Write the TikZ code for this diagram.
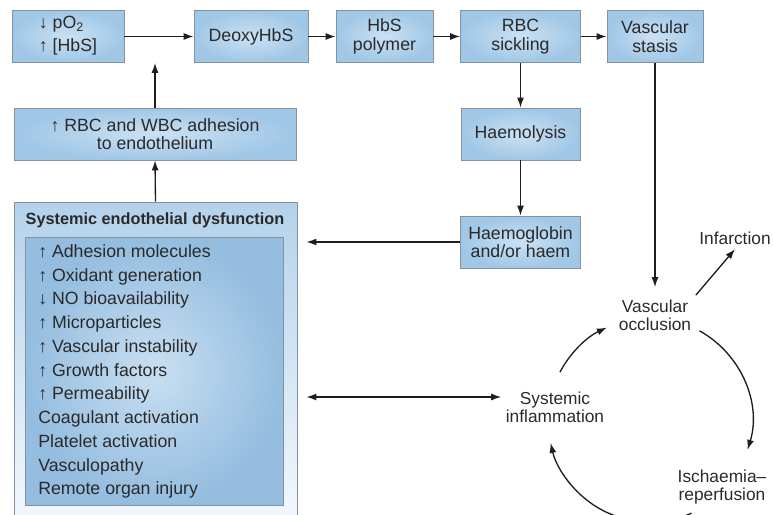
\documentclass[tikz,border=0pt]{standalone}
\usepackage{fontspec}
\setmainfont{Liberation Sans}
\usetikzlibrary{arrows.meta,calc}
\newcommand{\upar}{\textbf{↑}}
\newcommand{\dnar}{\textbf{↓}}
\begin{document}
\begin{tikzpicture}[x=0.75pt, y=-0.75pt,
  box/.style={draw=edge, line width=0.6pt, shading=radial, inner color=boxin, outer color=boxout, minimum height=39pt, inner sep=0pt, align=center, text=ink, font=\fontsize{13.3}{14}\selectfont},
  lbl/.style={align=center, text=ink, font=\fontsize{13}{13.2}\selectfont},
  arr/.style={draw=wire, line width=1pt, -{Latex[length=7.5pt,width=5.25pt]}}]
\definecolor{ink}{HTML}{2A2A2A}
\definecolor{wire}{HTML}{1E1E1E}
\definecolor{edge}{HTML}{8391A0}
\definecolor{boxin}{HTML}{CBE1F3}
\definecolor{boxout}{HTML}{A0C7E6}
\definecolor{listin}{HTML}{C9DFF1}
\definecolor{listout}{HTML}{94BDDF}
\definecolor{paneltop}{HTML}{B3D2EB}
\definecolor{panelbot}{HTML}{F2F7FC}
\useasboundingbox (0,0) rectangle (773,514);
\clip (0,0) rectangle (773,514);
\node[box, minimum width=84pt] (low) at (68,36.5) {\begin{tabular}{@{}l@{}}\dnar\ pO\textsubscript{2}\\[3pt]\upar\ [HbS]\end{tabular}};
\node[box, minimum width=85.5pt] (deoxy) at (251,36.5) {DeoxyHbS};
\node[box, minimum width=72.75pt] (poly) at (384.5,36.5) {HbS\\polymer};
\node[box, minimum width=90pt] (sickle) at (520.5,36.5) {RBC\\sickling};
\node[box, minimum width=72pt] (stasis) at (655,36.5) {Vascular\\stasis};
\node[box, minimum width=89.25pt] (haemo) at (520.5,134) {Haemolysis};
\node[box, minimum width=90pt] (hglob) at (520.5,242) {Haemoglobin\\and/or haem};
\node[box, minimum width=211.5pt] (adh) at (155,134) {\upar\ RBC and WBC adhesion\\to endothelium};
\node[draw=edge, line width=0.6pt, top color=paneltop, bottom color=panelbot, minimum width=212.25pt, minimum height=237pt, inner sep=0pt] (endo) at (155.5,360) {};
\node[text=ink, font=\fontsize{12.2}{14}\selectfont\bfseries] (title) at (155,220) {Systemic endothelial dysfunction};
\node[draw=edge, line width=0.6pt, shading=radial, inner color=listin, outer color=listout, minimum width=193.5pt, minimum height=201pt, inner sep=0pt] (inner) at (154,371) {};
\node[anchor=west, inner sep=0pt, align=left, text=ink, font=\fontsize{13.3}{17.8}\selectfont] (items) at (38,371.5) {\upar\ Adhesion molecules\\\upar\ Oxidant generation\\\dnar\ NO bioavailability\\\upar\ Microparticles\\\upar\ Vascular instability\\\upar\ Growth factors\\\upar\ Permeability\\Coagulant activation\\Platelet activation\\Vasculopathy\\Remote organ injury};
\node[lbl] (occl) at (655,315) {Vascular\\occlusion};
\node[lbl] (infarct) at (735,238) {Infarction};
\node[lbl] (infl) at (555,407) {Systemic\\inflammation};
\node[lbl] (isch) at (722,487) {Ischaemia–\\reperfusion};
\coordinate (cyc) at (650,420);
\coordinate (infpt) at ([yshift=7.5pt]infl.west);
\draw[arr] (low) -- (deoxy);
\draw[arr] (deoxy) -- (poly);
\draw[arr] (poly) -- (sickle);
\draw[arr] (sickle) -- (stasis);
\draw[arr] (sickle) -- (haemo);
\draw[arr] (haemo) -- (hglob);
\draw[arr, shorten >=6.75pt] (hglob.west) -- (hglob.west -| endo.east);
\draw[arr] (endo.north) -- (adh.south);
\draw[arr] (adh.north) -- (adh.north |- low.south);
\draw[arr, shorten >=6pt] (stasis.south) -- (occl.north);
\draw[arr] (occl.north east) -- (infarct.south);
\draw[arr, {Latex[length=7.5pt,width=5.25pt]}-{Latex[length=7.5pt,width=5.25pt]}, shorten <=6.75pt] (endo.east |- infpt) -- (infpt);
\draw[arr] ($(cyc)+(-152:102)$) arc[start angle=-152, end angle=-115, radius=102];
\draw[arr] ($(cyc)+(-61:102)$) arc[start angle=-61, end angle=17, radius=102];
\draw[arr] ($(cyc)+(66:102)$) arc[start angle=66, end angle=167, radius=102];
\end{tikzpicture}
\end{document}
